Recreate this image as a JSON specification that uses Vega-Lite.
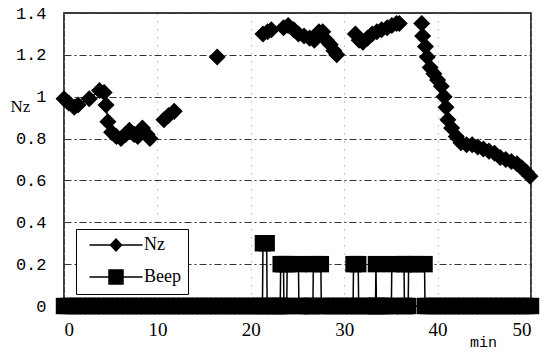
{
"$schema": "https://vega.github.io/schema/vega-lite/v6.json",
"width": 467, "height": 293,
"autosize": {"type": "none"},
"padding": {"left": 64, "top": 13, "right": 25, "bottom": 46},
"background": "white",
"config": {"view": {"stroke": "black", "strokeWidth": 1.5}, "font": "Liberation Mono"},
"data": {"values": [
{"s":"Nz","g":"a","t":0,"v":0.99},{"s":"Nz","g":"a","t":0.5,"v":0.97},{"s":"Nz","g":"a","t":1.1,"v":0.95},{"s":"Nz","g":"a","t":1.5,"v":0.96},{"s":"Nz","g":"a","t":2.7,"v":0.99},{"s":"Nz","g":"a","t":3.8,"v":1.03},{"s":"Nz","g":"a","t":4.3,"v":1.02},{"s":"Nz","g":"a","t":4.5,"v":0.96},{"s":"Nz","g":"a","t":4.7,"v":0.88},{"s":"Nz","g":"a","t":5.1,"v":0.83},{"s":"Nz","g":"a","t":5.6,"v":0.81},{"s":"Nz","g":"a","t":6.1,"v":0.8},{"s":"Nz","g":"a","t":6.6,"v":0.82},{"s":"Nz","g":"a","t":7.0,"v":0.84},{"s":"Nz","g":"a","t":7.5,"v":0.82},{"s":"Nz","g":"a","t":7.9,"v":0.81},{"s":"Nz","g":"a","t":8.4,"v":0.85},{"s":"Nz","g":"a","t":8.9,"v":0.82},{"s":"Nz","g":"a","t":9.2,"v":0.8},
{"s":"Nz","g":"b","t":10.7,"v":0.89},{"s":"Nz","g":"b","t":11.2,"v":0.91},{"s":"Nz","g":"b","t":11.8,"v":0.93},
{"s":"Nz","g":"c","t":16.4,"v":1.19},
{"s":"Nz","g":"d","t":21.3,"v":1.3},{"s":"Nz","g":"d","t":21.8,"v":1.31},{"s":"Nz","g":"d","t":22.2,"v":1.32},{"s":"Nz","g":"d","t":23.5,"v":1.33},{"s":"Nz","g":"d","t":24.0,"v":1.34},{"s":"Nz","g":"d","t":24.6,"v":1.32},{"s":"Nz","g":"d","t":25.1,"v":1.3},{"s":"Nz","g":"d","t":25.7,"v":1.29},{"s":"Nz","g":"d","t":26.3,"v":1.28},{"s":"Nz","g":"d","t":26.8,"v":1.27},{"s":"Nz","g":"d","t":27.3,"v":1.31},{"s":"Nz","g":"d","t":27.7,"v":1.31},{"s":"Nz","g":"d","t":28.1,"v":1.27},{"s":"Nz","g":"d","t":28.5,"v":1.25},{"s":"Nz","g":"d","t":28.9,"v":1.22},{"s":"Nz","g":"d","t":29.2,"v":1.2},
{"s":"Nz","g":"e","t":31.2,"v":1.3},{"s":"Nz","g":"e","t":31.6,"v":1.27},{"s":"Nz","g":"e","t":32.0,"v":1.26},{"s":"Nz","g":"e","t":32.5,"v":1.28},{"s":"Nz","g":"e","t":33.0,"v":1.3},{"s":"Nz","g":"e","t":33.5,"v":1.31},{"s":"Nz","g":"e","t":34.0,"v":1.32},{"s":"Nz","g":"e","t":34.6,"v":1.33},{"s":"Nz","g":"e","t":35.1,"v":1.34},{"s":"Nz","g":"e","t":35.6,"v":1.35},{"s":"Nz","g":"e","t":35.9,"v":1.35},
{"s":"Nz","g":"f","t":38.3,"v":1.35},{"s":"Nz","g":"f","t":38.4,"v":1.29},{"s":"Nz","g":"f","t":38.7,"v":1.24},{"s":"Nz","g":"f","t":38.9,"v":1.19},{"s":"Nz","g":"f","t":39.2,"v":1.14},{"s":"Nz","g":"f","t":39.6,"v":1.11},{"s":"Nz","g":"f","t":40.0,"v":1.08},{"s":"Nz","g":"f","t":40.4,"v":1.05},{"s":"Nz","g":"f","t":40.7,"v":1.0},{"s":"Nz","g":"f","t":40.9,"v":0.95},{"s":"Nz","g":"f","t":41.1,"v":0.89},{"s":"Nz","g":"f","t":41.5,"v":0.85},{"s":"Nz","g":"f","t":42.0,"v":0.81},{"s":"Nz","g":"f","t":42.5,"v":0.78},{"s":"Nz","g":"f","t":43.1,"v":0.77},{"s":"Nz","g":"f","t":43.7,"v":0.77},{"s":"Nz","g":"f","t":44.3,"v":0.76},{"s":"Nz","g":"f","t":44.9,"v":0.75},{"s":"Nz","g":"f","t":45.5,"v":0.74},{"s":"Nz","g":"f","t":46.1,"v":0.73},{"s":"Nz","g":"f","t":46.7,"v":0.71},{"s":"Nz","g":"f","t":47.3,"v":0.7},{"s":"Nz","g":"f","t":47.9,"v":0.69},{"s":"Nz","g":"f","t":48.5,"v":0.68},{"s":"Nz","g":"f","t":49.0,"v":0.66},{"s":"Nz","g":"f","t":49.5,"v":0.64},{"s":"Nz","g":"f","t":49.9,"v":0.62},
{"s":"Beep","g":"z","t":0,"v":0},{"s":"Beep","g":"z","t":0.5,"v":0},{"s":"Beep","g":"z","t":1,"v":0},{"s":"Beep","g":"z","t":1.5,"v":0},{"s":"Beep","g":"z","t":2,"v":0},{"s":"Beep","g":"z","t":2.5,"v":0},{"s":"Beep","g":"z","t":3,"v":0},{"s":"Beep","g":"z","t":3.5,"v":0},{"s":"Beep","g":"z","t":4,"v":0},{"s":"Beep","g":"z","t":4.5,"v":0},{"s":"Beep","g":"z","t":5,"v":0},{"s":"Beep","g":"z","t":5.5,"v":0},{"s":"Beep","g":"z","t":6,"v":0},{"s":"Beep","g":"z","t":6.5,"v":0},{"s":"Beep","g":"z","t":7,"v":0},{"s":"Beep","g":"z","t":7.5,"v":0},{"s":"Beep","g":"z","t":8,"v":0},{"s":"Beep","g":"z","t":8.5,"v":0},{"s":"Beep","g":"z","t":9,"v":0},{"s":"Beep","g":"z","t":9.5,"v":0},{"s":"Beep","g":"z","t":10,"v":0},{"s":"Beep","g":"z","t":10.5,"v":0},{"s":"Beep","g":"z","t":11,"v":0},{"s":"Beep","g":"z","t":11.5,"v":0},{"s":"Beep","g":"z","t":12,"v":0},{"s":"Beep","g":"z","t":12.5,"v":0},{"s":"Beep","g":"z","t":13,"v":0},{"s":"Beep","g":"z","t":13.5,"v":0},{"s":"Beep","g":"z","t":14,"v":0},{"s":"Beep","g":"z","t":14.5,"v":0},{"s":"Beep","g":"z","t":15,"v":0},{"s":"Beep","g":"z","t":15.5,"v":0},{"s":"Beep","g":"z","t":16,"v":0},{"s":"Beep","g":"z","t":16.5,"v":0},{"s":"Beep","g":"z","t":17,"v":0},{"s":"Beep","g":"z","t":17.5,"v":0},{"s":"Beep","g":"z","t":18,"v":0},{"s":"Beep","g":"z","t":18.5,"v":0},{"s":"Beep","g":"z","t":19,"v":0},{"s":"Beep","g":"z","t":19.5,"v":0},{"s":"Beep","g":"z","t":20,"v":0},{"s":"Beep","g":"z","t":20.5,"v":0},{"s":"Beep","g":"z","t":21,"v":0},
{"s":"Beep","g":"z","t":21.25,"v":0},{"s":"Beep","g":"z","t":21.3,"v":0.3},{"s":"Beep","g":"z","t":21.7,"v":0.3},{"s":"Beep","g":"z","t":21.75,"v":0},
{"s":"Beep","g":"z","t":22,"v":0},{"s":"Beep","g":"z","t":22.5,"v":0},{"s":"Beep","g":"z","t":23,"v":0},
{"s":"Beep","g":"z","t":23.15,"v":0},{"s":"Beep","g":"z","t":23.2,"v":0.2},{"s":"Beep","g":"z","t":23.5,"v":0.2},{"s":"Beep","g":"z","t":23.55,"v":0},
{"s":"Beep","g":"z","t":23.85,"v":0},{"s":"Beep","g":"z","t":23.9,"v":0.2},{"s":"Beep","g":"z","t":25.1,"v":0.2},{"s":"Beep","g":"z","t":25.15,"v":0},
{"s":"Beep","g":"z","t":25.5,"v":0},{"s":"Beep","g":"z","t":26,"v":0},{"s":"Beep","g":"z","t":26.5,"v":0},
{"s":"Beep","g":"z","t":26.65,"v":0},{"s":"Beep","g":"z","t":26.7,"v":0.2},{"s":"Beep","g":"z","t":27.5,"v":0.2},{"s":"Beep","g":"z","t":27.55,"v":0},
{"s":"Beep","g":"z","t":28,"v":0},{"s":"Beep","g":"z","t":28.5,"v":0},{"s":"Beep","g":"z","t":29,"v":0},{"s":"Beep","g":"z","t":29.5,"v":0},{"s":"Beep","g":"z","t":30,"v":0},{"s":"Beep","g":"z","t":30.5,"v":0},
{"s":"Beep","g":"z","t":30.95,"v":0},{"s":"Beep","g":"z","t":31.0,"v":0.2},{"s":"Beep","g":"z","t":31.5,"v":0.2},{"s":"Beep","g":"z","t":31.55,"v":0},
{"s":"Beep","g":"z","t":32,"v":0},{"s":"Beep","g":"z","t":32.5,"v":0},{"s":"Beep","g":"z","t":33,"v":0},
{"s":"Beep","g":"z","t":33.35,"v":0},{"s":"Beep","g":"z","t":33.4,"v":0.2},{"s":"Beep","g":"z","t":33.45,"v":0},
{"s":"Beep","g":"z","t":33.5,"v":0},{"s":"Beep","g":"z","t":34,"v":0},{"s":"Beep","g":"z","t":34.5,"v":0},{"s":"Beep","g":"z","t":35,"v":0},
{"s":"Beep","g":"z","t":35.05,"v":0},{"s":"Beep","g":"z","t":35.1,"v":0.2},{"s":"Beep","g":"z","t":36.4,"v":0.2},{"s":"Beep","g":"z","t":36.45,"v":0},
{"s":"Beep","g":"z","t":36.5,"v":0},
{"s":"Beep","g":"z","t":36.85,"v":0},{"s":"Beep","g":"z","t":36.9,"v":0.2},{"s":"Beep","g":"z","t":37.75,"v":0.2},{"s":"Beep","g":"z","t":38.6,"v":0.2},{"s":"Beep","g":"z","t":38.65,"v":0},
{"s":"Beep","g":"z","t":39,"v":0},{"s":"Beep","g":"z","t":39.5,"v":0},{"s":"Beep","g":"z","t":40,"v":0},{"s":"Beep","g":"z","t":40.5,"v":0},{"s":"Beep","g":"z","t":41,"v":0},{"s":"Beep","g":"z","t":41.5,"v":0},{"s":"Beep","g":"z","t":42,"v":0},{"s":"Beep","g":"z","t":42.5,"v":0},{"s":"Beep","g":"z","t":43,"v":0},{"s":"Beep","g":"z","t":43.5,"v":0},{"s":"Beep","g":"z","t":44,"v":0},{"s":"Beep","g":"z","t":44.5,"v":0},{"s":"Beep","g":"z","t":45,"v":0},{"s":"Beep","g":"z","t":45.5,"v":0},{"s":"Beep","g":"z","t":46,"v":0},{"s":"Beep","g":"z","t":46.5,"v":0},{"s":"Beep","g":"z","t":47,"v":0},{"s":"Beep","g":"z","t":47.5,"v":0},{"s":"Beep","g":"z","t":48,"v":0},{"s":"Beep","g":"z","t":48.5,"v":0},{"s":"Beep","g":"z","t":49,"v":0},{"s":"Beep","g":"z","t":49.5,"v":0},{"s":"Beep","g":"z","t":50,"v":0}
]},
"encoding": {
  "x": {"field": "t", "type": "quantitative", "scale": {"domain": [0, 50], "nice": false},
    "axis": {"title": "min", "values": [0, 10, 20, 30, 40, 50], "format": "d", "labelFont": "Liberation Serif", "labelFontSize": 19, "labelColor": "black", "labelPadding": 14, "ticks": false, "domain": true, "domainColor": "black", "domainWidth": 1, "grid": true, "gridColor": "#999", "gridDash": [1, 7], "titleFont": "Liberation Mono", "titleFontSize": 15, "titleFontWeight": "normal", "titleColor": "black", "titleX": 419, "titleY": 35, "titleBaseline": "middle", "titleAlign": "center"}},
  "y": {"field": "v", "type": "quantitative", "scale": {"domain": [0, 1.4], "nice": false},
    "axis": {"title": "Nz", "values": [0, 0.2, 0.4, 0.6, 0.8, 1, 1.2, 1.4], "format": "~g", "labelFont": "Liberation Mono", "labelFontSize": 17, "labelColor": "black", "labelPadding": 18, "ticks": false, "domain": false, "grid": true, "gridColor": "#333", "gridDash": [7, 3, 2, 3], "titleFont": "Liberation Serif", "titleFontSize": 17, "titleFontWeight": "normal", "titleAngle": 0, "titleX": -44, "titleY": 93, "titleAlign": "center", "titleBaseline": "middle", "titleColor": "black"}}
},
"layer": [
  {"transform": [{"filter": "datum.s === 'Beep'"}], "mark": {"type": "line", "color": "black", "strokeWidth": 1.5}, "encoding": {"detail": {"field": "g"}}},
  {"transform": [{"filter": "datum.s === 'Nz'"}], "mark": {"type": "line", "color": "black", "strokeWidth": 1.5}, "encoding": {"detail": {"field": "g"}}},
  {"transform": [{"filter": "datum.s === 'Beep'"}], "mark": {"type": "point", "shape": "square", "filled": true, "color": "black", "size": 270, "opacity": 1}, "encoding": {}},
  {"transform": [{"filter": "datum.s === 'Nz'"}], "mark": {"type": "point", "shape": "diamond", "filled": true, "color": "black", "size": 290, "opacity": 1}, "encoding": {}},
  {"mark": {"type": "point", "filled": false, "color": "black", "strokeWidth": 1.5, "size": 10, "opacity": 0},
   "encoding": {"shape": {"field": "s", "type": "nominal", "scale": {"domain": ["Nz", "Beep"], "range": ["M-5.3,0L5.3,0M-1.1,0L0,-1.2L1.1,0L0,1.2ZM-0.85,0L0,-0.93L0.85,0L0,0.93ZM-0.6,0L0,-0.65L0.6,0L0,0.65ZM-0.35,0L0,-0.38L0.35,0L0,0.38ZM-0.1,0L0,-0.11L0.1,0L0,0.11Z", "M-5.3,0L5.3,0M-1.4,-1.4L1.4,-1.4L1.4,1.4L-1.4,1.4ZM-1.15,-1.15L1.15,-1.15L1.15,1.15L-1.15,1.15ZM-0.9,-0.9L0.9,-0.9L0.9,0.9L-0.9,0.9ZM-0.65,-0.65L0.65,-0.65L0.65,0.65L-0.65,0.65ZM-0.4,-0.4L0.4,-0.4L0.4,0.4L-0.4,0.4ZM-0.15,-0.15L0.15,-0.15L0.15,0.15L-0.15,0.15Z"]},
     "legend": {"title": null, "orient": "none", "legendX": 12, "legendY": 216, "padding": 7, "fillColor": "white", "strokeColor": "black", "symbolSize": 100, "symbolOpacity": 1, "symbolStrokeWidth": 1.5, "symbolFillColor": "black", "symbolStrokeColor": "black", "symbolOffset": 24, "labelOffset": 19, "labelFont": "Liberation Serif", "labelFontSize": 18, "labelColor": "black", "rowPadding": 13,
       "encode": {"legend": {"update": {"strokeDash": {"value": [3, 2]}}}}}}}}
]
}
